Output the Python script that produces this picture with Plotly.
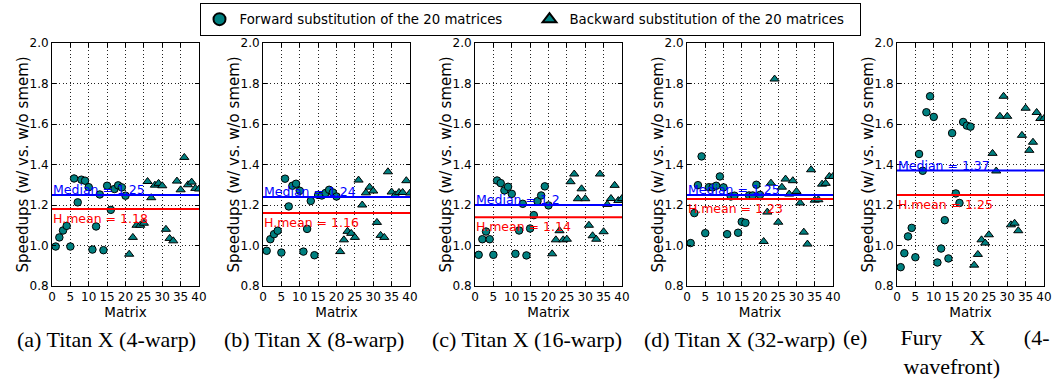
import plotly.graph_objects as go
from plotly.subplots import make_subplots

# Matrix indices: forward substitution runs on 1..20, backward on 21..40
fwd_idx = list(range(1, 21))
bwd_idx = list(range(21, 41))

# Speedups (with vs. without shared memory) per configuration
fwd_4warp = [0.995, 1.04, 1.074, 1.097, 0.995, 1.331, 1.213, 1.325, 1.32, 1.288,
             0.98, 1.094, 1.252, 0.977, 1.295, 1.176, 1.279, 1.297, 1.287, 1.246]
bwd_4warp = [0.957, 1.04, 1.10, 1.10, 1.11, 1.316, 1.236, 1.298, 1.307, 1.295,
             1.08, 1.035, 1.023, 1.318, 1.275, 1.435, 1.30, 1.313, 1.282, 1.279]

fwd_8warp = [0.974, 1.031, 1.056, 1.073, 0.965, 1.33, 1.193, 1.295, 1.305, 1.27,
             0.97, 1.082, 1.22, 0.952, 1.25, 1.247, 1.259, 1.275, 1.262, 1.242]
bwd_8warp = [0.97, 1.028, 1.07, 1.06, 1.04, 1.323, 1.2, 1.26, 1.288, 1.269,
             1.114, 1.05, 1.04, 1.364, 1.264, 1.25, 1.262, 1.262, 1.32, 1.259]

fwd_16warp = [0.954, 1.031, 1.069, 1.031, 0.954, 1.321, 1.308, 1.272, 1.29, 1.255,
              0.959, 1.074, 1.206, 0.951, 1.084, 1.15, 1.219, 1.247, 1.292, 1.198]
bwd_16warp = [0.959, 1.028, 1.073, 1.028, 1.031, 1.315, 1.353, 1.231, 1.28, 1.231,
              1.10, 1.048, 1.031, 1.353, 1.068, 1.203, 1.232, 1.297, 1.222, 1.232]

fwd_32warp = [1.012, 1.16, 1.298, 1.44, 1.061, 1.288, 1.287, 1.295, 1.341, 1.287,
              1.056, 1.242, 1.246, 1.063, 1.117, 1.112, 1.247, 1.247, 1.30, 1.25]
bwd_32warp = [1.02, 1.165, 1.308, 1.822, 1.115, 1.288, 1.328, 1.254, 1.32, 1.267,
              1.21, 1.066, 1.007, 1.374, 1.224, 1.226, 1.303, 1.307, 1.341, 1.341]

fwd_fury = [0.893, 0.962, 1.045, 1.087, 0.942, 1.452, 1.369, 1.658, 1.737, 1.635,
            0.916, 0.985, 1.125, 0.936, 1.555, 1.257, 1.21, 1.61, 1.592, 1.587]
bwd_fury = [0.903, 0.956, 1.028, 1.012, 1.053, 1.455, 1.368, 1.638, 1.737, 1.638,
            1.102, 1.11, 1.073, 1.544, 1.678, 1.47, 1.51, 1.657, 1.627, 1.627]

medians = [1.25, 1.24, 1.2, 1.25, 1.37]
hmeans = [1.18, 1.16, 1.14, 1.23, 1.25]

forward_sets = [fwd_4warp, fwd_8warp, fwd_16warp, fwd_32warp, fwd_fury]
backward_sets = [bwd_4warp, bwd_8warp, bwd_16warp, bwd_32warp, bwd_fury]

x_ticks = [0, 5, 10, 15, 20, 25, 30, 35, 40]
y_ticks = [0.8, 1.0, 1.2, 1.4, 1.6, 1.8, 2.0]

captions = ["(a) Titan X (4-warp)", "(b) Titan X (8-warp)",
            "(c) Titan X (16-warp)", "(d) Titan X (32-warp)"]
last_caption_words = ["(e)", "Fury", "X", "(4-", "wavefront)"]

W, H = 1054, 380
# panel plot areas in pixels (left, right), shared top/bottom
panel_px = [(52, 199), (263, 410), (475, 622), (687, 833), (897, 1044)]
top_px, bottom_px = 43, 286
caption_y = 339

SANS = "DejaVu Sans"
SERIF = "Liberation Serif"
TEAL = "#008080"

fig = make_subplots(rows=1, cols=5)

for i in range(5):
    col = i + 1
    fig.add_trace(go.Scatter(
        x=fwd_idx, y=forward_sets[i], mode="markers",
        name="Forward substitution of the 20 matrices",
        legendgroup="fwd", showlegend=(i == 0),
        marker=dict(symbol="circle", size=7.5, color=TEAL,
                    line=dict(color="black", width=1)),
    ), row=1, col=col)
    fig.add_trace(go.Scatter(
        x=bwd_idx, y=backward_sets[i], mode="markers",
        name="Backward substitution of the 20 matrices",
        legendgroup="bwd", showlegend=(i == 0),
        marker=dict(symbol="triangle-up", size=8, color=TEAL,
                    line=dict(color="black", width=1)),
    ), row=1, col=col)

    xa = "x" if i == 0 else f"x{col}"
    ya = "y" if i == 0 else f"y{col}"

    # median and harmonic mean reference lines
    fig.add_shape(type="line", xref=f"{xa} domain", yref=ya,
                  x0=0, x1=1, y0=medians[i], y1=medians[i],
                  line=dict(color="#0000ff", width=2), layer="above")
    fig.add_shape(type="line", xref=f"{xa} domain", yref=ya,
                  x0=0, x1=1, y0=hmeans[i], y1=hmeans[i],
                  line=dict(color="#ff0000", width=2), layer="above")
    fig.add_annotation(xref=xa, yref=ya, x=0, y=medians[i],
                       text=f"Median = {medians[i]}", showarrow=False,
                       xanchor="left", yanchor="bottom", xshift=-1, yshift=-4,
                       font=dict(family=SANS, size=12.5, color="#0000ff"))
    fig.add_annotation(xref=xa, yref=ya, x=0, y=hmeans[i],
                       text=f"H.mean = {hmeans[i]}", showarrow=False,
                       xanchor="left", yanchor="top", xshift=-1, yshift=0,
                       font=dict(family=SANS, size=12.5, color="#ff0000"))

    # y-axis title, placed a fixed distance left of the axis line
    fig.add_annotation(xref=f"{xa} domain", yref=f"{ya} domain", x=0, y=0.5,
                       text="Speedups (w/ vs. w/o smem)", showarrow=False,
                       textangle=-90, xanchor="center", yanchor="middle",
                       xshift=-30,
                       font=dict(family=SANS, size=15, color="black"))

    l, r = panel_px[i]
    axis_common = dict(showline=True, linecolor="black", linewidth=1,
                       mirror="ticks", ticks="inside", ticklen=4,
                       tickcolor="black", showgrid=True, gridcolor="#222",
                       gridwidth=0.7, griddash="1px,2.5px", zeroline=False,
                       automargin=False,
                       tickfont=dict(family=SANS, size=12, color="black"))
    fig.update_xaxes(range=[0, 40], tickvals=x_ticks,
                     ticktext=[str(v) for v in x_ticks],
                     domain=[l / W, r / W],
                     title=dict(text="Matrix", standoff=2,
                                font=dict(family=SANS, size=13.5, color="black")),
                     **axis_common, row=1, col=col)
    fig.update_yaxes(range=[0.8, 2.0], tickvals=y_ticks,
                     ticktext=[f"{v:.1f}" for v in y_ticks],
                     domain=[1 - bottom_px / H, 1 - top_px / H],
                     **axis_common, row=1, col=col)

# sub-figure captions
caption_cx = [106, 314, 527, 739]
for text, cx in zip(captions, caption_cx):
    fig.add_annotation(xref="paper", yref="paper", x=cx / W,
                       y=1 - caption_y / H, text=text, showarrow=False,
                       xanchor="center", yanchor="middle", borderpad=0,
                       font=dict(family=SERIF, size=22, color="black"))

# justified two-line caption of the last panel
gap = "&nbsp;"
w = last_caption_words
e_caption = (w[0] + gap * 6 + w[1] + gap * 5 + w[2] + gap * 7 + w[3]
             + "<br>" + gap * 11 + w[4])
fig.add_annotation(xref="paper", yref="paper", x=844 / W, y=0,
                   text=e_caption, showarrow=False, xanchor="left",
                   yanchor="bottom", align="left", xshift=-2, borderpad=0,
                   font=dict(family=SERIF, size=22, color="black"))

fig.update_layout(
    width=W, height=H,
    margin=dict(l=0, r=0, t=0, b=0),
    paper_bgcolor="white", plot_bgcolor="white",
    showlegend=True,
    legend=dict(orientation="h", x=530 / W, xanchor="center",
                y=1 - 3 / H, yanchor="top",
                bordercolor="black", borderwidth=1, bgcolor="white",
                font=dict(family=SANS, size=13.3, color="black"),
                entrywidth=285, itemsizing="constant",
                tracegroupgap=0),
)

fig.write_html("out.html")
